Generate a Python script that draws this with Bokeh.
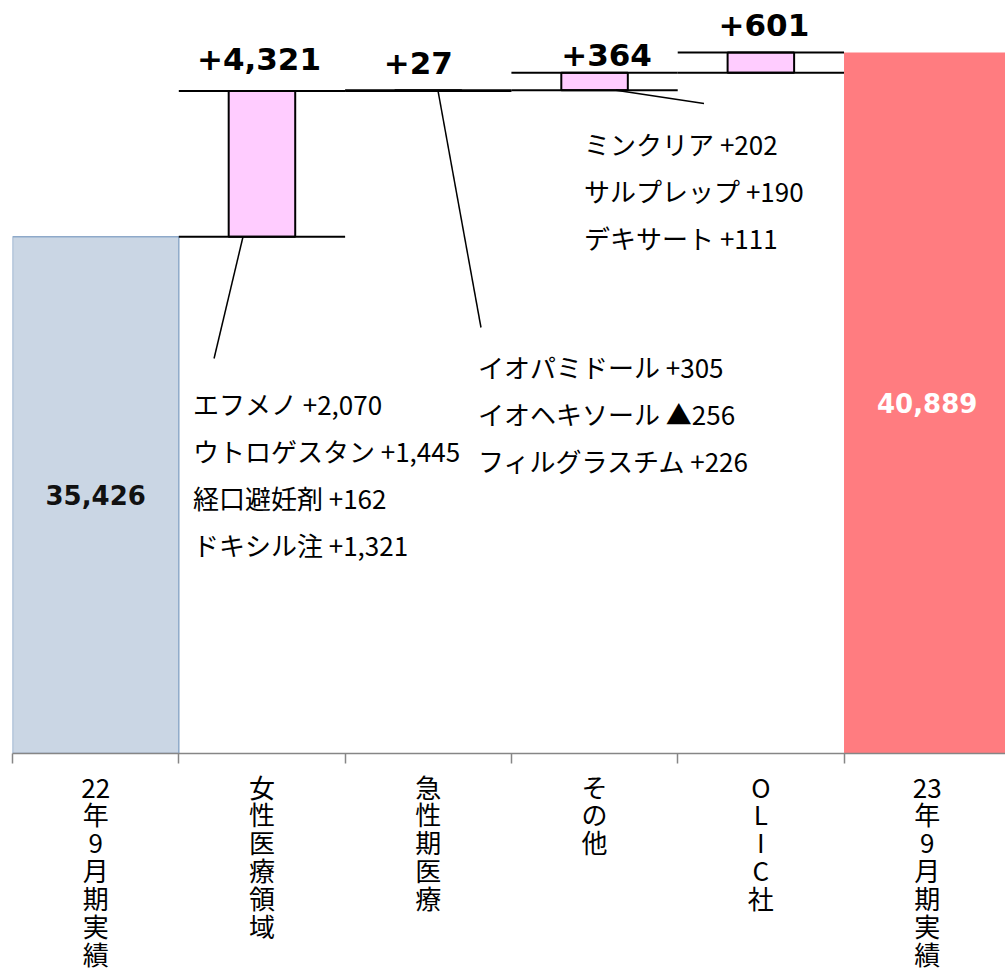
from bokeh.plotting import figure
from bokeh.models import ColumnDataSource, FixedTicker, Range1d
from bokeh.core.properties import value
from bokeh.embed import file_html
from bokeh.resources import INLINE

# ---------------- data ----------------
categories = ["22年9月期実績", "女性医療領域", "急性期医療", "その他", "OLIC社", "23年9月期実績"]
start_value = 35426
deltas = [4321, 27, 514, 601]
end_value = 40889
delta_labels = ["+4,321", "+27", "+364", "+601"]
start_label = "35,426"
end_label = "40,889"

breakdown_women = ["エフメノ +2,070", "ウトロゲスタン +1,445", "経口避妊剤  +162", "ドキシル注 +1,321"]
breakdown_acute = ["イオパミドール +305", "イオヘキソール  ▲256", "フィルグラスチム +226"]
breakdown_other = ["ミンクリア +202", "サルプレップ +190", "デキサート +111"]

# ---------------- layout / style ----------------
Y_MIN, Y_MAX = 20100, 42434
JP = value("Noto Sans CJK JP")
BOLD = value("DejaVu Sans")

def vertical(s):
    lines, buf = [], ""
    for ch in s:
        if ch.isdigit():
            buf += ch
        else:
            if buf:
                lines.append(buf)
                buf = ""
            lines.append(ch)
    if buf:
        lines.append(buf)
    return "\n".join(lines)

p = figure(width=1005, height=977, x_range=Range1d(0, 5.971), y_range=Range1d(Y_MIN, Y_MAX),
           output_backend="svg", toolbar_location=None, y_axis_location=None,
           min_border_left=12, min_border_right=0, min_border_top=0, min_border_bottom=224)
p.grid.visible = False
p.outline_line_color = None
p.background_fill_color = "white"

# levels
levels = [start_value]
for d in deltas:
    levels.append(levels[-1] + d)

n = len(categories)
centers = [i + 0.5 for i in range(n)]

# start / end bars
p.vbar(x=[centers[0]], width=1.0, bottom=0, top=[start_value],
       fill_color="#CAD6E4", line_color="#8EA9C9", line_width=1.5)
p.vbar(x=[centers[-1]], width=1.0, bottom=0, top=[end_value],
       fill_color="#FF7C80", line_color=None)

# delta bars
src = ColumnDataSource(dict(x=centers[1:-1], bottom=levels[:-1], top=levels[1:]))
p.vbar(x="x", width=0.4, bottom="bottom", top="top", source=src,
       fill_color="#FFCCFF", line_color="black", line_width=2)

# level lines over each delta category
x0s, x1s, ys = [], [], []
for i in range(len(deltas)):
    for lv in (levels[i], levels[i + 1]):
        x0s.append(i + 1)
        x1s.append(i + 2)
        ys.append(lv)
p.segment(x0=x0s, y0=ys, x1=x1s, y1=ys, line_color="black", line_width=2)

# delta labels
dx_px = [-3, -10, 12, 3]
dy_px = [-32, -27, -18, -28]
p.text(x=centers[1:-1], y=levels[1:], text=delta_labels, x_offset=dx_px, y_offset=dy_px,
       text_font=BOLD, text_font_style="bold", text_font_size="31px",
       text_align="center", text_baseline="alphabetic", text_color="black")

# values inside start / end bars
p.text(x=[centers[0]], y=[(Y_MIN + start_value) / 2], text=[start_label],
       text_font=BOLD, text_font_style="bold", text_font_size="26px",
       text_align="center", text_baseline="middle", text_color="#111111")
p.text(x=[centers[-1]], y=[(Y_MIN + end_value) / 2], text=[end_label],
       text_font=BOLD, text_font_style="bold", text_font_size="26px",
       text_align="center", text_baseline="middle", text_color="white")

# breakdown annotations
groups = [
    (breakdown_women, 1.085, 30481, 1, -0.114, (1.212, 31816)),
    (breakdown_acute, 2.799, 31578, 2, 0.059, (2.817, 32735)),
    (breakdown_other, 3.437, 38193, 3, 0.129, (4.158, 39379)),
]
for rows, ax, ay, ci, sdx, (ex, ey) in groups:
    p.text(x=[ax] * len(rows), y=[ay] * len(rows), text=rows,
           y_offset=[47 * k for k in range(len(rows))],
           text_font=JP, text_font_size="26px", text_align="left",
           text_baseline="middle", text_color="black")
    base = levels[ci - 1]
    p.segment(x0=[centers[ci] + sdx], y0=[base], x1=[ex], y1=[ey],
              line_color="black", line_width=1.5)

# category axis
ax = p.xaxis[0]
ax.ticker = FixedTicker(ticks=centers, minor_ticks=list(range(n + 1)))
ax.major_label_overrides = {c: vertical(s) for c, s in zip(centers, categories)}
ax.major_tick_line_color = None
ax.major_tick_out = 10
ax.major_tick_in = 0
ax.minor_tick_line_color = "#868686"
ax.minor_tick_line_width = 1.5
ax.minor_tick_out = 10
ax.minor_tick_in = 0
ax.axis_line_color = "#868686"
ax.axis_line_width = 1.5
ax.major_label_standoff = 4
ax.major_label_text_font = "Noto Sans CJK JP"
ax.major_label_text_font_size = "26px"
ax.major_label_text_line_height = 0.755
ax.major_label_text_color = "black"

open("out.html", "w").write(file_html(p, INLINE))
